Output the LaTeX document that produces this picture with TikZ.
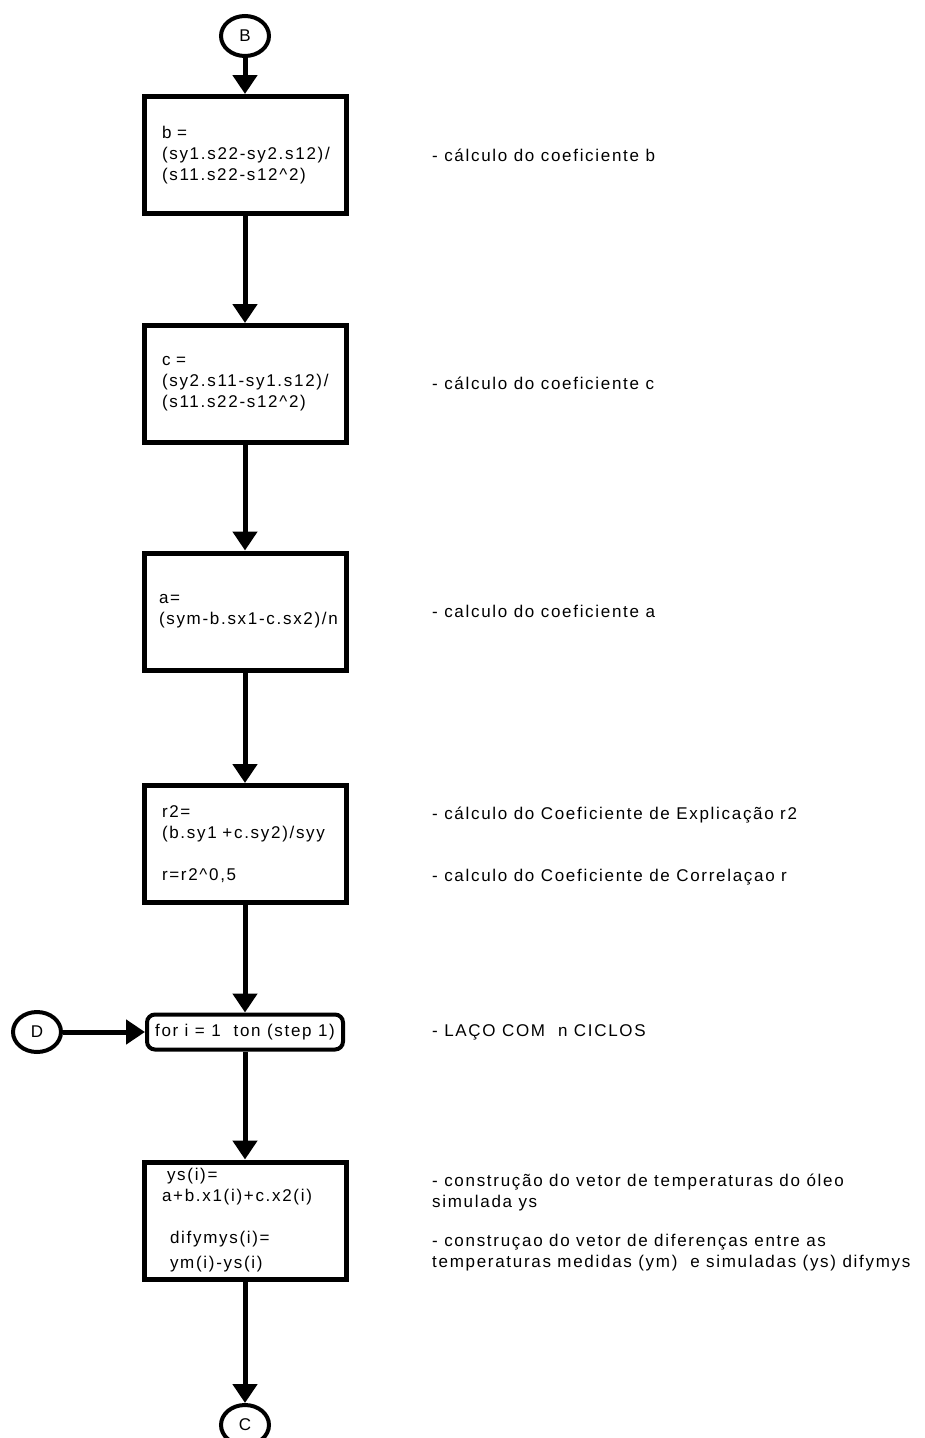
\documentclass[tikz,border=0pt]{standalone}
\usepackage{fontspec}
\setmainfont[LetterSpace=10]{Liberation Sans}
\usetikzlibrary{arrows.meta,shapes.geometric}
\newcommand\diagfont{\fontsize{17}{21}\selectfont\exhyphenpenalty=10000\relax\hyphenpenalty=10000\relax}
\begin{document}
\begin{tikzpicture}[x=1pt,y=-1pt,
  every node/.style={font=\diagfont},
  box/.style={draw, line width=5pt, text width=166pt, inner xsep=18pt, inner ysep=0pt, align=left, minimum height=117pt},
  loopbox/.style={draw, line width=4pt, rounded corners=8pt, minimum width=196pt, minimum height=35pt, inner xsep=4pt, inner ysep=0pt},
  conn/.style={draw, ellipse, line width=4pt, minimum width=48pt, minimum height=40pt, inner sep=0pt},
  note/.style={anchor=west, inner sep=0pt, align=left},
  arr/.style={line width=5pt, -{Triangle[length=19pt,width=24pt]}}]
\useasboundingbox (0,0) rectangle (925,1438);
% connectors (circles)
\node[conn] (B) at (245,36) {B};
\node[conn] (D) at (37,1032) {D};
\node[conn] (C) at (245,1425) {C};
% boxes
\node[box] (b1) at (245,155) {b =\\(sy1.s22-sy2.s12)/\\(s11.s22-s12\^{}2)};
\node[box] (b2) at (245,384) {c =\\(sy2.s11-sy1.s12)/\\(s11.s22-s12\^{}2)};
\node[box, inner xsep=15pt, text width=172pt] (b3) at (245,611.5) {a=\\(sym-b.sx1-c.sx2)/n};
\node[box] (b4) at (245,844) {r2=\\(b.sy1 +c.sy2)/syy\\[21pt]r=r2\^{}0,5};
\node[loopbox] (loop) at (245,1032) {for i = 1 \ ton (step 1)};
\node[box] (b5) at (245,1220.5) {\hspace{5pt}ys(i)=\\a+b.x1(i)+c.x2(i)\\[21pt]\hspace{8pt}difymys(i)=\\[4pt]\hspace{8pt}ym(i)-ys(i)};
% arrows
\draw[arr] (B) -- (b1);
\draw[arr] (b1) -- (b2);
\draw[arr] (b2) -- (b3);
\draw[arr] (b3) -- (b4);
\draw[arr] (b4) -- (loop);
\draw[arr] (D) -- (loop);
\draw[arr] (loop) -- (b5);
\draw[arr] (b5) -- (C);
% notes
\node[note] (n1) at (432,155) {- cálculo do coeficiente b};
\node[note] (n2) at (432,383) {- cálculo do coeficiente c};
\node[note] (n3) at (432,611) {- calculo do coeficiente a};
\node[note] (n4) at (432,815) {- cálculo do Coeficiente de Explicação r2};
\node[note] (n5) at (432,877) {- calculo do Coeficiente de Correlaçao r};
\node[note] (n6) at (432,1032) {- LAÇO COM \ n CICLOS};
\node[note] (n7) at (432,1192.5) {- construção do vetor de temperaturas do óleo\\simulada ys};
\node[note] (n8) at (432,1253) {- construçao do vetor de diferenças entre as\\temperaturas medidas (ym) \ e simuladas (ys) difymys};
\end{tikzpicture}
\end{document}
